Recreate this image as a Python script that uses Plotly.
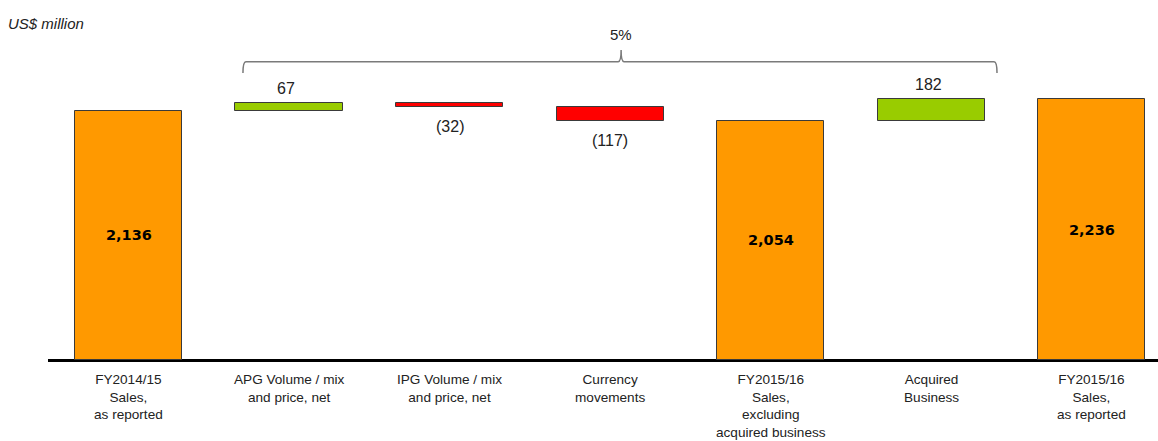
import plotly.graph_objects as go

# Sales bridge, US$ million
categories = [
    "FY2014/15<br>Sales,<br>as reported",
    "APG Volume / mix<br>and price, net",
    "IPG Volume / mix<br>and price, net",
    "Currency<br>movements",
    "FY2015/16<br>Sales,<br>excluding<br>acquired business",
    "Acquired<br>Business",
    "FY2015/16<br>Sales,<br>as reported",
]
measures = ["total", "delta", "delta", "delta", "total", "delta", "total"]
values = [2136, 67, -32, -117, 2054, 182, 2236]
growth_label = "5%"

ORANGE = "#FF9900"
GREEN = "#99CC00"
RED = "#FF0000"
OUTLINE = "#3a3a3a"
FONT = "Liberation Sans"

# floating-bar geometry from running total
bases, heights, colors = [], [], []
running = 0
for m, v in zip(measures, values):
    if m == "total":
        bases.append(0)
        heights.append(v)
        colors.append(ORANGE)
        running = v
    else:
        start = running
        running = running + v
        bases.append(min(start, running))
        heights.append(abs(v))
        colors.append(GREEN if v >= 0 else RED)

xs = list(range(len(categories)))

fig = go.Figure(go.Bar(
    x=xs, y=heights, base=bases, width=0.667,
    marker=dict(color=colors, line=dict(color=OUTLINE, width=1)),
    hoverinfo="skip",
))

def fmt(v):
    return f"({abs(v):,})" if v < 0 else f"{v:,}"

annotations = []
for i, (m, v, b, h) in enumerate(zip(measures, values, bases, heights)):
    if m == "total":
        annotations.append(dict(x=i, y=b + h / 2, text=f"<b>{fmt(v)}</b>",
                                showarrow=False, font=dict(family="DejaVu Sans", size=14.5, color="#000"),
                                yanchor="middle"))
    elif v >= 0:
        annotations.append(dict(x=i, y=b + h, text=fmt(v), showarrow=False,
                                font=dict(family=FONT, size=16, color="#222"),
                                yanchor="bottom", yshift=4, xshift=-3))
    else:
        annotations.append(dict(x=i, y=b, text=fmt(v), showarrow=False,
                                font=dict(family=FONT, size=16, color="#222"),
                                yanchor="top", yshift=-9))

# category labels under the axis
for i, c in enumerate(categories):
    annotations.append(dict(x=i, y=0, yref="paper", text=c, showarrow=False,
                            yanchor="top", yshift=-10,
                            font=dict(family=FONT, size=13.6, color="#222")))

annotations.append(dict(x=0, y=1, xref="paper", yref="paper", text="<i>US$ million</i>",
                        showarrow=False, xanchor="left", yanchor="top", xshift=-42, yshift=-13,
                        font=dict(family=FONT, size=15, color="#222")))

# brace spanning the organic bridge
x0, x1 = 0.713, 5.411
xm = 3.069
y_line = 2559
y_end = 2462
y_tip = 2659
d = 0.018
path = (f"M {x0},{y_end} Q {x0},{y_line} {x0 + d},{y_line} "
        f"L {xm - d},{y_line} Q {xm},{y_line} {xm},{y_tip} "
        f"Q {xm},{y_line} {xm + d},{y_line} "
        f"L {x1 - d},{y_line} Q {x1},{y_line} {x1},{y_end}")
shapes = [dict(type="path", path=path, xref="x", yref="y",
               line=dict(color="#7a7a7a", width=1.5))]
annotations.append(dict(x=xm, y=y_tip, text=growth_label, showarrow=False, yanchor="bottom",
                        yshift=5, font=dict(family=FONT, size=15, color="#222")))

fig.update_layout(
    width=1158, height=441,
    margin=dict(l=48, r=0, t=0, b=81),
    plot_bgcolor="white", paper_bgcolor="white",
    showlegend=False,
    bargap=0,
    xaxis=dict(range=[-0.5016, 6.414], showticklabels=False, showgrid=False,
               zeroline=False, showline=False, fixedrange=True),
    yaxis=dict(range=[0, 3088], showticklabels=False, showgrid=False,
               zeroline=True, zerolinecolor="#000", zerolinewidth=2.5, showline=False),
    annotations=annotations,
    shapes=shapes,
)

fig.write_html("out.html")
